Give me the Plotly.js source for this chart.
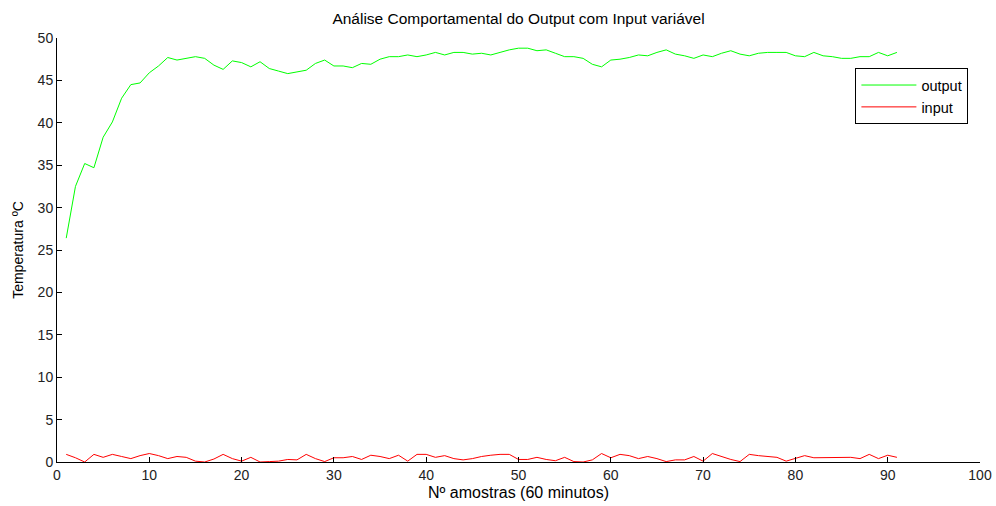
<!DOCTYPE html>
<html>
<head>
<meta charset="utf-8">
<script src="https://cdn.plot.ly/plotly-3.0.1.min.js"></script>
<style>html,body{margin:0;padding:0;background:#fff;}#chart{width:996px;height:506px;}</style>
</head>
<body>
<div id="chart"></div>
<script>
const samples = Array.from({length: 91}, (_, i) => i + 1);
const outputValues = [
  26.4, 32.5, 35.2, 34.7, 38.3, 40.1, 42.9, 44.5, 44.7, 45.9,
  46.7, 47.7, 47.4, 47.6, 47.8, 47.6, 46.8, 46.3, 47.3, 47.1,
  46.6, 47.2, 46.4, 46.1, 45.8, 46.0, 46.2, 47.0, 47.4, 46.7,
  46.7, 46.5, 47.0, 46.9, 47.5, 47.8, 47.8, 48.0, 47.8, 48.0,
  48.3, 48.0, 48.3, 48.3, 48.1, 48.2, 48.0, 48.3, 48.6, 48.8,
  48.8, 48.5, 48.6, 48.2, 47.8, 47.8, 47.6, 46.9, 46.6, 47.4,
  47.5, 47.7, 48.0, 47.9, 48.3, 48.6, 48.1, 47.9, 47.6, 48.0,
  47.8, 48.2, 48.5, 48.1, 47.9, 48.2, 48.3, 48.3, 48.3, 47.9,
  47.8, 48.3, 47.9, 47.8, 47.6, 47.6, 47.8, 47.8, 48.3, 47.9,
  48.3
];
const inputValues = [
  0.9, 0.5, 0.0, 0.9, 0.55, 0.9, 0.65, 0.4, 0.75, 1.0,
  0.75, 0.4, 0.65, 0.55, 0.1, 0.0, 0.35, 0.9, 0.4, 0.1,
  0.55, 0.0, 0.05, 0.1, 0.3, 0.25, 0.9, 0.4, 0.05, 0.5,
  0.5, 0.65, 0.3, 0.8, 0.65, 0.4, 0.8, 0.1, 0.9, 0.9,
  0.55, 0.75, 0.4, 0.25, 0.4, 0.65, 0.8, 0.9, 0.9, 0.3,
  0.3, 0.55, 0.3, 0.15, 0.55, 0.05, 0.0, 0.25, 1.0, 0.5,
  0.9, 0.75, 0.4, 0.65, 0.4, 0.05, 0.25, 0.25, 0.65, 0.1,
  1.0, 0.65, 0.3, 0.05, 0.9, 0.75, 0.65, 0.55, 0.1, 0.4,
  0.75, 0.5, 0.5, 0.5, 0.55, 0.55, 0.4, 0.9, 0.4, 0.8,
  0.55
];
const xTicks = [0, 10, 20, 30, 40, 50, 60, 70, 80, 90, 100];
const yTicks = [0, 5, 10, 15, 20, 25, 30, 35, 40, 45, 50];

const font = 'Liberation Sans, Arial, sans-serif';
const traces = [
  {x: samples, y: outputValues, name: 'output', type: 'scatter', mode: 'lines',
   line: {color: '#00ff00', width: 1}},
  {x: samples, y: inputValues, name: 'input', type: 'scatter', mode: 'lines',
   line: {color: '#ff0000', width: 1}}
];
const layout = {
  width: 996, height: 506,
  margin: {l: 57, r: 16, t: 38, b: 44, pad: 0},
  paper_bgcolor: '#ffffff', plot_bgcolor: '#ffffff',
  font: {family: font, size: 13, color: '#000'},
  title: {text: 'Análise Comportamental do Output com Input variável',
          font: {family: font, size: 15.5, color: '#000'},
          x: 0.5, xref: 'paper', y: 1, yref: 'paper', yanchor: 'bottom', pad: {b: 14}},
  xaxis: {range: [0, 100], tickvals: xTicks, ticktext: xTicks.map(String),
          showgrid: false, zeroline: false, showline: true, linecolor: '#000', linewidth: 1,
          ticks: 'inside', ticklen: 5, tickcolor: '#000', tickwidth: 1,
          tickfont: {family: font, size: 14, color: '#222'},
          title: {text: 'Nº amostras (60 minutos)', font: {family: font, size: 16, color: '#000'}, standoff: 5}},
  yaxis: {range: [0, 50], tickvals: yTicks, ticktext: yTicks.map(String),
          showgrid: false, zeroline: false, showline: true, linecolor: '#000', linewidth: 1,
          ticks: 'inside', ticklen: 5, tickcolor: '#000', tickwidth: 1,
          tickfont: {family: font, size: 14, color: '#222'},
          title: {text: 'Temperatura ºC', font: {family: font, size: 14, color: '#000'}, standoff: 10}},
  showlegend: true,
  legend: {x: 0.865, y: 0.929, xanchor: 'left', yanchor: 'top',
           bgcolor: '#fff', bordercolor: '#000', borderwidth: 1, itemwidth: 55,
           font: {family: font, size: 14.5, color: '#000'}, tracegroupgap: 0}
};
Plotly.newPlot('chart', traces, layout, {displayModeBar: false, staticPlot: true});
</script>
</body>
</html>
